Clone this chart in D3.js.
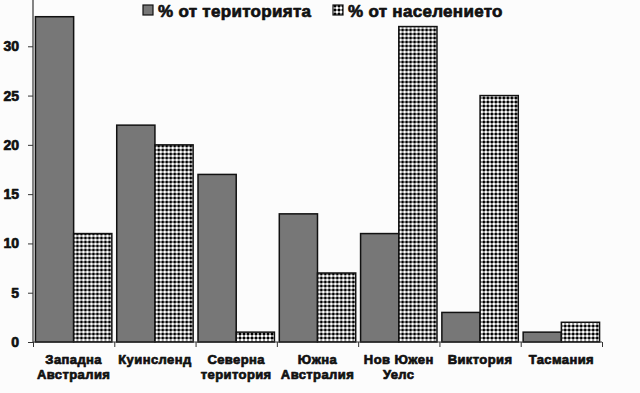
<!DOCTYPE html>
<html lang="bg">
<head>
<meta charset="utf-8">
<title>Австралия</title>
<script src="https://d3js.org/d3.v7.min.js"></script>
<style>
    body { margin: 0; background-color: #fcfcfc; }
    svg { display: block; font-family: "Liberation Sans", Arial, sans-serif; font-weight: bold; }
    .heavy { stroke: #111; stroke-width: 0.7px; stroke-linejoin: round; }
</style>
</head>
<body>
<div id="chart_div"></div>
<script>
"use strict";
var states = [["Западна", "Австралия"], ["Куинсленд"], ["Северна", "територия"], ["Южна", "Австралия"], ["Нов Южен", "Уелс"], ["Виктория"], ["Тасмания"]];
var territory = [33, 22, 17, 13, 11, 3, 1];
var population = [11, 20, 1, 7, 32, 25, 2];
var seriesNames = ["% от територията", "% от населението"];
var yTicks = [0, 5, 10, 15, 20, 25, 30];

var svg_width = 640, svg_height = 393;
var left = 33, right = 602, bottom = 342;

var svg = d3.select("#chart_div").append("svg")
    .attr("width", svg_width)
    .attr("height", svg_height);

var defs = svg.append("defs");
var pat = defs.append("pattern")
    .attr("id", "dots")
    .attr("patternUnits", "userSpaceOnUse")
    .attr("width", 4).attr("height", 4);
pat.append("rect").attr("width", 4).attr("height", 4).attr("fill", "#fff");
pat.append("rect").attr("x", 1.5).attr("y", 0).attr("width", 1).attr("height", 4).attr("fill", "#222");
pat.append("rect").attr("x", 0).attr("y", 1.5).attr("width", 4).attr("height", 1).attr("fill", "#222");
pat.append("rect").attr("x", 1).attr("y", 1).attr("width", 2).attr("height", 2).attr("fill", "#000");

var xscale = d3.scaleBand()
    .domain(d3.range(states.length))
    .range([left, right])
    .paddingInner(0.06)
    .paddingOuter(0.03);
var sub = d3.scaleBand().domain([0, 1]).range([0, xscale.bandwidth()]);
var yscale = d3.scaleLinear().domain([0, 35]).range([bottom, -3]);

var rows = states.map(function(s, i) { return { i: i, v: [territory[i], population[i]] }; });

var groups = svg.selectAll("g.cat").data(rows).enter().append("g")
    .attr("class", "cat")
    .attr("transform", function(d) { return "translate(" + xscale(d.i) + ",0)"; });
groups.selectAll("rect").data(function(d) { return d.v; }).enter().append("rect")
    .attr("x", function(d, j) { return sub(j); })
    .attr("y", function(d) { return yscale(d); })
    .attr("width", sub.bandwidth())
    .attr("height", function(d) { return bottom - yscale(d); })
    .attr("fill", function(d, j) { return j == 0 ? "#777" : "url(#dots)"; })
    .attr("stroke", "#111")
    .attr("stroke-width", 1.5);

// y axis
var yaxis = d3.axisLeft(yscale).tickValues(yTicks).tickSize(5).tickPadding(9);
var gy = svg.append("g").attr("transform", "translate(" + left + ",0)").call(yaxis);
gy.select(".domain").attr("d", "M0,0V" + bottom).attr("stroke", "#333").attr("stroke-width", 1.2);
gy.selectAll(".tick line").attr("stroke", "#333");
gy.selectAll("text").attr("font-size", 14).attr("font-weight", "bold").attr("fill", "#111")
    .attr("class", "heavy")
    .attr("font-family", "Liberation Sans, Arial, sans-serif");

// x axis
var xedge = d3.scaleLinear().domain([0, states.length]).range([left, right]);
var xaxis = d3.axisBottom(xedge).ticks(states.length).tickSize(5).tickFormat("");
var gx = svg.append("g").attr("transform", "translate(0," + bottom + ")").call(xaxis);
gx.select(".domain").attr("d", "M" + left + ",0H" + right).attr("stroke", "#333").attr("stroke-width", 1.2);
gx.selectAll(".tick line").attr("stroke", "#333");

var labels = svg.selectAll("text.xlab").data(states).enter().append("text")
    .attr("class", "xlab heavy")
    .attr("text-anchor", "middle")
    .attr("font-size", 13)
    .attr("letter-spacing", 0.4)
    .attr("fill", "#111")
    .attr("x", function(d, i) { return xedge(i + 0.5); })
    .attr("y", 364);
labels.selectAll("tspan").data(function(d) { return d; }).enter().append("tspan")
    .attr("x", function() { return d3.select(this.parentNode).attr("x"); })
    .attr("dy", function(d, k) { return k == 0 ? 0 : 15; })
    .text(function(d) { return d; });

// legend
var legendX = [143, 333];
var legend = svg.selectAll("g.leg").data(seriesNames).enter().append("g")
    .attr("class", "leg")
    .attr("transform", function(d, i) { return "translate(" + legendX[i] + ",4)"; });
legend.append("rect")
    .attr("width", 10).attr("height", 10).attr("y", 1)
    .attr("fill", function(d, i) { return i == 0 ? "#777" : "url(#dots)"; })
    .attr("stroke", "#111").attr("stroke-width", 1.2);
legend.append("text")
    .attr("class", "heavy")
    .attr("x", 15).attr("y", 13)
    .attr("font-size", 17)
    .attr("letter-spacing", 0.3)
    .attr("fill", "#111")
    .text(function(d) { return d; });
</script>
</body>
</html>
